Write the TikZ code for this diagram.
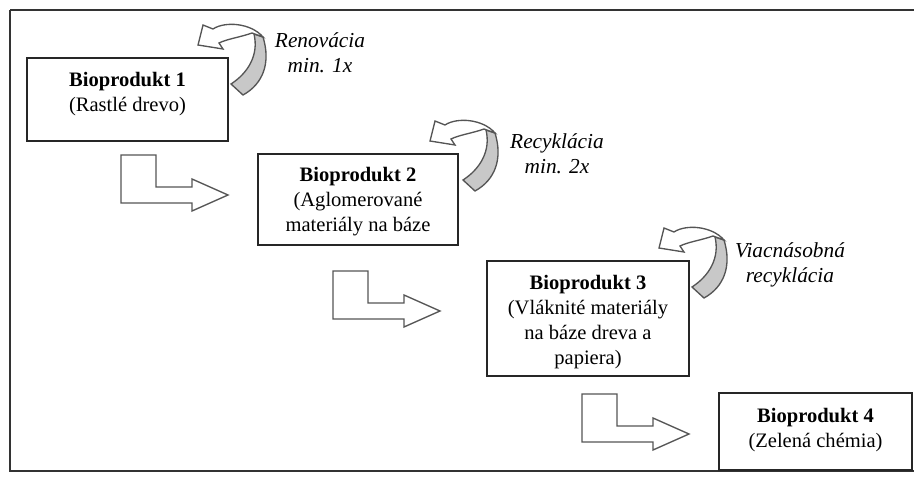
\documentclass[tikz,border=0pt]{standalone}
\usepackage{fontspec}
\setmainfont{Liberation Serif}
\usetikzlibrary{calc}

\definecolor{framegray}{HTML}{333333}
\definecolor{arrowline}{HTML}{555555}
\definecolor{ribbongray}{HTML}{C8C8C8}

\tikzset{
  box/.style={draw=black!85, line width=1.1pt, fill=white, inner sep=0pt},
  boxtext/.style={anchor=north, align=center, inner sep=0pt,
    font=\fontsize{15.4pt}{18.75pt}\selectfont},
  note/.style={anchor=north, align=center, inner sep=0pt,
    font=\fontsize{16pt}{18.75pt}\selectfont\itshape},
  flowline/.style={draw=arrowline, line width=1pt, line join=miter},
  % hollow L-shaped arrow between two stages
  stepflow/.pic={
    \draw[flowline, fill=white] (0,0) -- (35,0) -- (35,32) -- (71,32) -- (71,24)
      -- (107,40) -- (71,56) -- (71,48) -- (0,48) -- cycle;
  },
  % curved ribbon arrow turning back onto a stage
  loopback/.pic={
    \filldraw[flowline, fill=ribbongray] (10,36) .. controls (30,25) and (38,4) .. (30,-22)
      -- (21,-25) .. controls (26,-4) and (15,14) .. (-2,25) -- cycle;
    \filldraw[flowline, fill=white] (30,-22) -- (19,-26)
      .. controls (8,-22) and (-6,-20) .. (-14,-16) -- (-10,-10) -- (-35,-14)
      -- (-30,-34) -- (-20,-30) .. controls (-8,-38) and (18,-36) .. (30,-22) -- cycle;
  }
}

\begin{document}
\begin{tikzpicture}[x=0.75pt, y=-0.75pt]
  \useasboundingbox (0,0) rectangle (914,488);
  \clip (0,0) rectangle (914,488);

  % outer frame (runs past the right edge)
  \draw[framegray, line width=1.6pt] (10,10) -- (930,10) (10,10) -- (10,471) -- (930,471);

  % stages
  \node[box, minimum width=150.75pt, minimum height=62.25pt] (b1) at (127.5,99.5) {};
  \node[box, minimum width=150pt, minimum height=68.25pt] (b2) at (358,199.5) {};
  \node[box, minimum width=151.5pt, minimum height=86.25pt] (b3) at (588,318.5) {};
  \node[box, minimum width=144.75pt, minimum height=57.75pt] (b4) at (815.5,431.5) {};

  \node[boxtext] (t1) at (127.5,72) {\textbf{Bioprodukt 1}\\(Rastlé drevo)};
  \node[boxtext] (t2) at (358,167) {\textbf{Bioprodukt 2}\\(Aglomerované\\materiály na báze};
  \node[boxtext] (t3) at (588,275) {\textbf{Bioprodukt 3}\\(Vláknité materiály\\na báze dreva a\\papiera)};
  \node[boxtext] (t4) at (815.5,408) {\textbf{Bioprodukt 4}\\(Zelená chémia)};

  % transitions between stages
  \pic (s1) at (121,155) {stepflow};
  \pic (s2) at (333,271) {stepflow};
  \pic (s3) at (582,394) {stepflow};

  % return loops
  \pic (r1) at (233,59) {loopback};
  \pic (r2) at (465,155) {loopback};
  \pic (r3) at (694,262) {loopback};

  \node[note] (n1) at (320,32) {Renovácia\\min. 1x};
  \node[note] (n2) at (557,133) {Recyklácia\\min. 2x};
  \node[note] (n3) at (790,242) {Viacnásobná\\recyklácia};
\end{tikzpicture}
\end{document}
